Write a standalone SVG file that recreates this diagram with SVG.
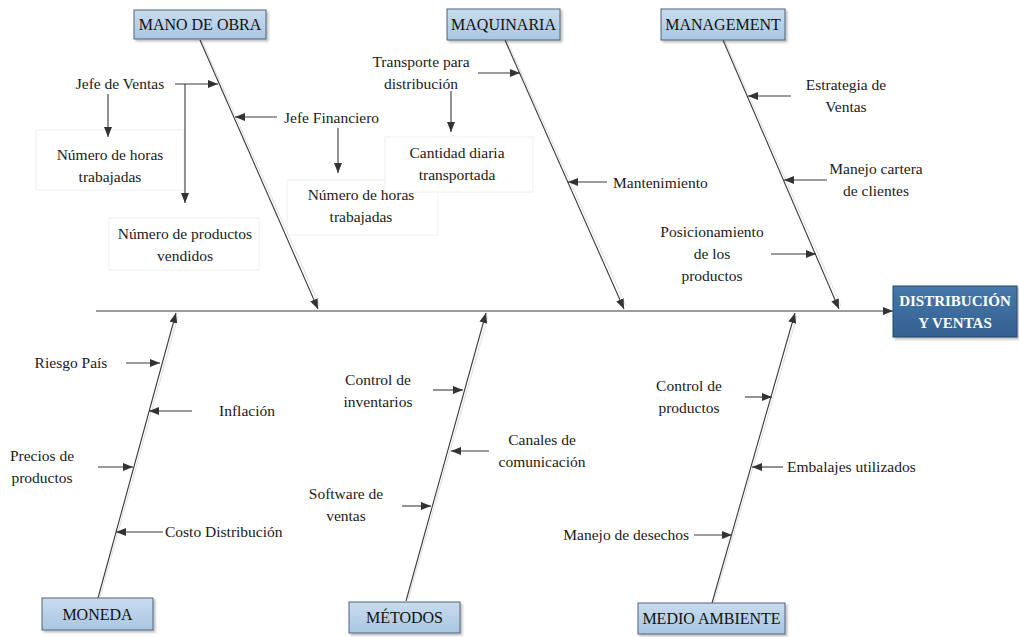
<svg xmlns="http://www.w3.org/2000/svg" width="1019" height="637" viewBox="0 0 1019 637">
  <style>
    text { font-family: "Liberation Serif", "Times New Roman", serif; font-size: 15.5px; fill: #1a1a1a; }
    .c { text-anchor: middle; }
    .e { text-anchor: end; }
    .cat rect { fill: url(#catFill); stroke: #4f6378; stroke-width: 1; filter: url(#shadow); }
    .cat text { text-anchor: middle; font-size: 16px; fill: #111; }
    .bone { stroke: #3a3a3a; stroke-width: 1.1; fill: none; marker-end: url(#arrow); }
    .bone-shade { stroke: #e4e4e4; stroke-width: 1.2; fill: none; }
    .sub { stroke: #3a3a3a; stroke-width: 1.1; fill: none; marker-end: url(#arrow); }
    .frame { fill: none; stroke: #f0f0f0; stroke-width: 1; }
    .frame-solid { fill: #ffffff; stroke: #f0f0f0; stroke-width: 1; }
  </style>
  <defs>
    <linearGradient id="catFill" x1="0" y1="0" x2="0" y2="1">
      <stop offset="0" stop-color="#c9dcee"/>
      <stop offset="1" stop-color="#a9c6e2"/>
    </linearGradient>
    <linearGradient id="effFill" x1="0" y1="0" x2="0" y2="1">
      <stop offset="0" stop-color="#4679ab"/>
      <stop offset="1" stop-color="#33608f"/>
    </linearGradient>
    <filter id="shadow" x="-10%" y="-20%" width="125%" height="150%">
      <feDropShadow dx="2" dy="2" stdDeviation="1.2" flood-color="#000" flood-opacity="0.25"/>
    </filter>
    <marker id="arrow" viewBox="0 0 10 8" markerUnits="userSpaceOnUse" markerWidth="10" markerHeight="8" refX="10" refY="4" orient="auto">
      <path d="M0,0 L10,4 L0,8 z" fill="#333"/>
    </marker>
  </defs>

  <rect width="1019" height="637" fill="#ffffff"/>

  <!-- MANO DE OBRA causes -->
  <g id="jefe-ventas">
    <text x="120" y="89" class="c">Jefe de Ventas</text>
  </g>
  <g id="horas-ventas">
    <rect class="frame" x="36" y="130" width="148" height="60"/>
    <text x="110" y="160" class="c">Número de horas</text>
    <text x="110" y="182" class="c">trabajadas</text>
  </g>
  <g id="productos-vendidos">
    <rect class="frame" x="109" y="218" width="150" height="52"/>
    <text x="185" y="239" class="c">Número de productos</text>
    <text x="185" y="261" class="c">vendidos</text>
  </g>
  <g id="jefe-financiero">
    <text x="284" y="123">Jefe Financiero</text>
  </g>
  <g id="horas-financiero">
    <rect class="frame" x="287" y="180" width="151" height="55"/>
    <text x="361" y="200" class="c">Número de horas</text>
    <text x="361" y="222" class="c">trabajadas</text>
  </g>

  <!-- MAQUINARIA causes -->
  <g id="transporte">
    <text x="421" y="67" class="c">Transporte para</text>
    <text x="421" y="89" class="c">distribución</text>
  </g>
  <g id="cantidad-diaria">
    <rect class="frame-solid" x="385" y="137" width="148" height="55"/>
    <text x="457" y="158" class="c">Cantidad diaria</text>
    <text x="457" y="180" class="c">transportada</text>
  </g>
  <g id="mantenimiento">
    <text x="613" y="188">Mantenimiento</text>
  </g>

  <!-- MANAGEMENT causes -->
  <g id="estrategia">
    <text x="846" y="90" class="c">Estrategia de</text>
    <text x="846" y="112" class="c">Ventas</text>
  </g>
  <g id="cartera">
    <text x="876" y="174" class="c">Manejo cartera</text>
    <text x="876" y="196" class="c">de clientes</text>
  </g>
  <g id="posicionamiento">
    <text x="712" y="237" class="c">Posicionamiento</text>
    <text x="712" y="259" class="c">de los</text>
    <text x="712" y="281" class="c">productos</text>
  </g>

  <!-- MONEDA causes -->
  <g id="riesgo-pais">
    <text x="71" y="368" class="c">Riesgo País</text>
  </g>
  <g id="inflacion">
    <text x="247" y="416" class="c">Inflación</text>
  </g>
  <g id="precios">
    <text x="42" y="461" class="c">Precios de</text>
    <text x="42" y="483" class="c">productos</text>
  </g>
  <g id="costo-distribucion">
    <text x="165" y="537">Costo Distribución</text>
  </g>

  <!-- METODOS causes -->
  <g id="control-inventarios">
    <text x="378" y="385" class="c">Control de</text>
    <text x="378" y="407" class="c">inventarios</text>
  </g>
  <g id="canales">
    <text x="542" y="445" class="c">Canales de</text>
    <text x="542" y="467" class="c">comunicación</text>
  </g>
  <g id="software">
    <text x="346" y="499" class="c">Software de</text>
    <text x="346" y="521" class="c">ventas</text>
  </g>

  <!-- MEDIO AMBIENTE causes -->
  <g id="control-productos">
    <text x="689" y="391" class="c">Control de</text>
    <text x="689" y="413" class="c">productos</text>
  </g>
  <g id="embalajes">
    <text x="787" y="472">Embalajes utilizados</text>
  </g>
  <g id="desechos">
    <text x="689" y="540" class="e">Manejo de desechos</text>
  </g>

  <!-- connectors: spine, bones and cause arrows -->
  <g id="connectors">
    <line class="sub" x1="96" y1="311" x2="893" y2="311"/>

    <!-- bone shading -->
    <line class="bone-shade" x1="202" y1="41" x2="320" y2="306"/>
    <line class="bone-shade" x1="507" y1="41" x2="626" y2="306"/>
    <line class="bone-shade" x1="725" y1="41" x2="841" y2="306"/>
    <line class="bone-shade" x1="100" y1="597" x2="178" y2="316"/>
    <line class="bone-shade" x1="408" y1="600" x2="488" y2="316"/>
    <line class="bone-shade" x1="714" y1="602" x2="797" y2="316"/>

    <line class="bone" x1="200" y1="40" x2="318" y2="309"/>
    <line class="bone" x1="505" y1="40" x2="624" y2="309"/>
    <line class="bone" x1="723" y1="40" x2="839" y2="309"/>
    <line class="bone" x1="98" y1="598" x2="176" y2="313"/>
    <line class="bone" x1="406" y1="601" x2="486" y2="313"/>
    <line class="bone" x1="712" y1="603" x2="795" y2="313"/>

    <!-- MANO DE OBRA causes -->
    <line class="sub" x1="175" y1="84" x2="218" y2="84"/>
    <line class="sub" x1="185" y1="84" x2="185" y2="203"/>
    <line class="sub" x1="108" y1="94" x2="108" y2="137"/>
    <line class="sub" x1="277" y1="117" x2="235" y2="117"/>
    <line class="sub" x1="338" y1="128" x2="338" y2="173"/>

    <!-- MAQUINARIA causes -->
    <line class="sub" x1="478" y1="73" x2="520" y2="73"/>
    <line class="sub" x1="451" y1="91" x2="451" y2="132"/>
    <line class="sub" x1="607" y1="182" x2="568" y2="182"/>

    <!-- MANAGEMENT causes -->
    <line class="sub" x1="791" y1="96" x2="748" y2="96"/>
    <line class="sub" x1="827" y1="180" x2="784" y2="180"/>
    <line class="sub" x1="771" y1="254" x2="816" y2="254"/>

    <!-- MONEDA causes -->
    <line class="sub" x1="126" y1="363" x2="160" y2="363"/>
    <line class="sub" x1="192" y1="411" x2="149" y2="411"/>
    <line class="sub" x1="98" y1="467" x2="133" y2="467"/>
    <line class="sub" x1="163" y1="532" x2="116" y2="532"/>

    <!-- METODOS causes -->
    <line class="sub" x1="433" y1="390" x2="463" y2="390"/>
    <line class="sub" x1="489" y1="451" x2="451" y2="451"/>
    <line class="sub" x1="402" y1="506" x2="431" y2="506"/>

    <!-- MEDIO AMBIENTE causes -->
    <line class="sub" x1="745" y1="397" x2="772" y2="397"/>
    <line class="sub" x1="783" y1="467" x2="752" y2="467"/>
    <line class="sub" x1="694" y1="535" x2="732" y2="535"/>
  </g>

  <!-- category heads -->
  <g id="mano-de-obra" class="cat">
    <rect x="134" y="10" width="132" height="29"/>
    <text x="200" y="30">MANO DE OBRA</text>
  </g>
  <g id="maquinaria" class="cat">
    <rect x="447" y="9" width="113" height="31"/>
    <text x="503.5" y="30">MAQUINARIA</text>
  </g>
  <g id="management" class="cat">
    <rect x="661" y="9" width="124" height="31"/>
    <text x="723" y="30">MANAGEMENT</text>
  </g>
  <g id="moneda" class="cat">
    <rect x="42" y="598" width="111" height="32"/>
    <text x="97.5" y="620">MONEDA</text>
  </g>
  <g id="metodos" class="cat">
    <rect x="349" y="602" width="111" height="31"/>
    <text x="404.5" y="623">MÉTODOS</text>
  </g>
  <g id="medio-ambiente" class="cat">
    <rect x="638" y="603" width="147" height="31"/>
    <text x="711.5" y="624">MEDIO AMBIENTE</text>
  </g>

  <!-- effect -->
  <g id="distribucion-y-ventas">
    <rect x="893" y="286" width="124" height="51" fill="url(#effFill)" stroke="#27476b" stroke-width="1" filter="url(#shadow)"/>
    <text x="955" y="306" class="c" style="font-weight:bold;fill:#ffffff;font-size:15px">DISTRIBUCIÓN</text>
    <text x="955" y="328" class="c" style="font-weight:bold;fill:#ffffff;font-size:15px">Y VENTAS</text>
  </g>
</svg>
